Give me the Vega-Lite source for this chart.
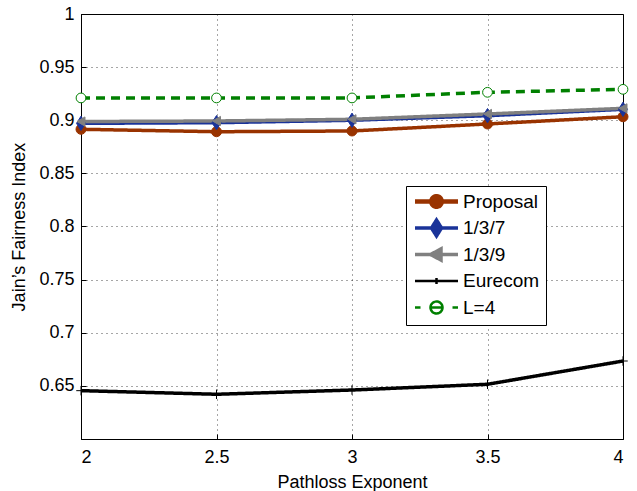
{
  "$schema": "https://vega.github.io/schema/vega-lite/v6.json",
  "width": 542,
  "height": 425,
  "autosize": "none",
  "padding": {"left": 81, "top": 14, "right": 14, "bottom": 52},
  "background": "white",
  "config": {
    "font": "Liberation Sans",
    "view": {"stroke": "#000", "strokeWidth": 1},
    "axis": {
      "domainColor": "#000",
      "tickColor": "#000",
      "labelColor": "#000",
      "titleColor": "#000",
      "labelFont": "Liberation Sans",
      "titleFont": "Liberation Sans",
      "labelFontSize": 18,
      "titleFontSize": 18,
      "titleFontWeight": "normal",
      "gridColor": "#000",
      "gridDash": [1, 4],
      "gridOpacity": 0.7,
      "gridWidth": 1
    }
  },
  "data": {
    "values": [
      {"x": 2, "series": "Proposal", "value": 0.8915},
      {"x": 2.5, "series": "Proposal", "value": 0.8892},
      {"x": 3, "series": "Proposal", "value": 0.8899},
      {"x": 3.5, "series": "Proposal", "value": 0.8965},
      {"x": 4, "series": "Proposal", "value": 0.9033},
      {"x": 2, "series": "1/3/7", "value": 0.8971},
      {"x": 2.5, "series": "1/3/7", "value": 0.8977},
      {"x": 3, "series": "1/3/7", "value": 0.9},
      {"x": 3.5, "series": "1/3/7", "value": 0.9043},
      {"x": 4, "series": "1/3/7", "value": 0.9103},
      {"x": 2, "series": "1/3/9", "value": 0.8988},
      {"x": 2.5, "series": "1/3/9", "value": 0.8993},
      {"x": 3, "series": "1/3/9", "value": 0.9009},
      {"x": 3.5, "series": "1/3/9", "value": 0.9059},
      {"x": 4, "series": "1/3/9", "value": 0.9112},
      {"x": 2, "series": "Eurecom", "value": 0.6455},
      {"x": 2.5, "series": "Eurecom", "value": 0.6421},
      {"x": 3, "series": "Eurecom", "value": 0.6461},
      {"x": 3.5, "series": "Eurecom", "value": 0.6515},
      {"x": 4, "series": "Eurecom", "value": 0.6734},
      {"x": 2, "series": "L=4", "value": 0.921},
      {"x": 2.5, "series": "L=4", "value": 0.921},
      {"x": 3, "series": "L=4", "value": 0.921},
      {"x": 3.5, "series": "L=4", "value": 0.9263},
      {"x": 4, "series": "L=4", "value": 0.9291}
    ]
  },
  "encoding": {
    "x": {
      "field": "x",
      "type": "quantitative",
      "scale": {"domain": [2, 4], "nice": false, "zero": false},
      "axis": {
        "title": "Pathloss Exponent",
        "values": [2, 2.5, 3, 3.5, 4],
        "labelExpr": "'' + datum.value",
        "tickSize": -5,
        "labelPadding": 14,
        "titlePadding": 7,
        "grid": true
      }
    },
    "y": {
      "field": "value",
      "type": "quantitative",
      "scale": {"domain": [0.6, 1], "nice": false, "zero": false},
      "axis": {
        "title": "Jain’s Fairness Index",
        "values": [0.65, 0.7, 0.75, 0.8, 0.85, 0.9, 0.95, 1],
        "labelExpr": "'' + datum.value",
        "tickSize": -5,
        "labelPadding": 12,
        "titlePadding": 10,
        "grid": true
      }
    }
  },
  "layer": [
    {
      "mark": {"type": "line", "clip": false},
      "encoding": {
        "stroke": {
          "field": "series",
          "type": "nominal",
          "scale": {
            "domain": ["Proposal", "1/3/7", "1/3/9", "Eurecom", "L=4"],
            "range": ["#993300", "#1A3399", "#808080", "#000000", "#008000"]
          },
          "legend": {
            "title": null,
            "orient": "none",
            "legendX": 325,
            "legendY": 172,
            "direction": "vertical",
            "gridAlign": "all",
            "strokeColor": "#000",
            "fillColor": "#fff",
            "padding": 6,
            "labelFont": "Liberation Sans",
            "labelFontSize": 19,
            "labelColor": "#000",
            "symbolSize": 100,
            "symbolOffset": 15,
            "labelOffset": 17,
            "rowPadding": -4.5,
            "encode": {
              "symbols": {
                "update": {
                  "shape": {"signal": "datum.value === 'Proposal' ? 'M-4.3,0H4.3M1.05,0A1.05,1.05,0,1,1,-1.05,0A1.05,1.05,0,1,1,1.05,0Z' : datum.value === '1/3/7' ? 'M-4.3,0H4.3M0,-1.6L1,0L0,1.6L-1,0Z' : datum.value === '1/3/9' ? 'M-4.3,0H4.3M-1.2,0L0.9,-1.1L0.9,1.1Z' : datum.value === 'Eurecom' ? 'M-4.3,0H4.3M0,-0.6V0.6' : 'M-4.3,0H-3.2M-1.3,0H1.3M3.2,0H4.3M1.2,0A1.2,1.2,0,1,1,-1.2,0A1.2,1.2,0,1,1,1.2,0Z'"},
                  "fill": {"signal": "datum.value === 'L=4' ? 'transparent' : scale('stroke', datum.value)"},
                  "stroke": {"signal": "scale('stroke', datum.value)"},
                  "strokeWidth": {"signal": "datum.value === 'Proposal' ? 4.5 : (datum.value === 'Eurecom' || datum.value === 'L=4') ? 2.5 : 3.5"},
                  "size": {"value": 100},
                  "opacity": {"value": 1},
                  "strokeDash": {"value": [1, 0]}
                }
              }
            }
          }
        },
        "strokeWidth": {
          "field": "series",
          "type": "nominal",
          "scale": {"range": [3.5, 3.5, 2.5, 2.5, 5]},
          "legend": null
        },
        "strokeDash": {
          "field": "series",
          "type": "nominal",
          "scale": {"range": [[1, 0], [1, 0], [1, 0], [9, 6], [1, 0]]},
          "legend": null
        }
      }
    },
    {
      "mark": {"type": "point", "clip": false, "opacity": 1},
      "encoding": {
        "color": {
          "field": "series",
          "type": "nominal",
          "scale": {"range": ["#1A3399", "#808080", "#000000", "#008000", "#993300"]},
          "legend": null
        },
        "fill": {
          "field": "series",
          "type": "nominal",
          "scale": {"range": ["#1A3399", "#808080", "#000000", "#ffffff", "#993300"]},
          "legend": null
        },
        "shape": {
          "field": "series",
          "type": "nominal",
          "scale": {"range": ["M0,-1.6L1,0L0,1.6L-1,0Z", "triangle-left", "M0,-1V1M-1,0H1", "circle", "circle"]},
          "legend": null
        },
        "size": {
          "field": "series",
          "type": "nominal",
          "scale": {"range": [80, 100, 40, 140, 100]},
          "legend": null
        },
        "strokeWidth": {
          "field": "series",
          "type": "nominal",
          "scale": {"range": [1, 1, 2, 2.5, 1]},
          "legend": null
        }
      }
    }
  ],
  "resolve": {"scale": {"strokeWidth": "independent"}}
}
